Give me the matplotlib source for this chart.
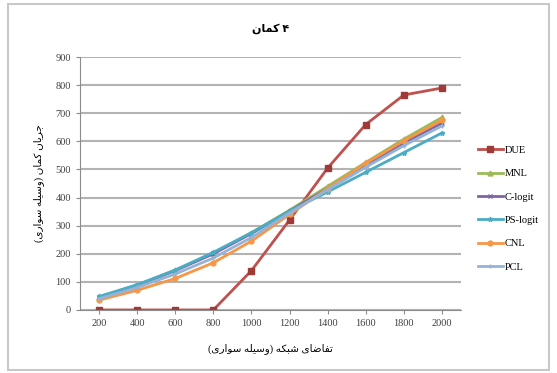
import matplotlib
matplotlib.use('Agg')
import matplotlib.pyplot as plt
from matplotlib.patches import Rectangle

# data
demand = [200, 400, 600, 800, 1000, 1200, 1400, 1600, 1800, 2000]
DUE = [0, 0, 0, 0, 140, 320, 505, 660, 765, 790]
MNL = [45, 88, 142, 202, 275, 355, 440, 525, 608, 685]
C_logit = [45, 88, 140, 200, 272, 352, 432, 515, 595, 665]
PS_logit = [48, 90, 142, 205, 275, 352, 420, 490, 560, 630]
CNL = [35, 70, 112, 168, 245, 340, 432, 522, 602, 675]
PCL = [40, 80, 128, 185, 258, 345, 428, 508, 585, 655]

series = ['DUE', 'MNL', 'C-logit', 'PS-logit', 'CNL', 'PCL']
values = [DUE, MNL, C_logit, PS_logit, CNL, PCL]
colors = ['#C0504D', '#9BBB59', '#8064A2', '#4BACC6', '#F79646', '#95B3D7']
markers = ['s', '^', 'x', '*', 'o', '+']

# persian text written in visual order with presentation forms (no shaping in mpl)
w_kaman = '\uFEE5\uFE8E\uFEE4\uFB90'
w_jaryan = '\uFEE5\uFE8E\uFBFE\uFEAE\uFE9F'
w_vasile = '\uFEEA\uFEE0\uFBFF\uFEB3\uFEED'
w_savari = '\uFBFC\uFEAD\uFE8D\uFEEE\uFEB3'
w_shabake = '\uFEEA\uFB91\uFE92\uFEB7'
w_taghaza = '\uFBFC\uFE8E\uFEBF\uFE8E\uFED4\uFE97'
paren = '(' + w_savari + ' ' + w_vasile + ')'
title_txt = w_kaman + ' \u06F4'
ylab = paren + ' ' + w_kaman + ' ' + w_jaryan
xlab = paren + ' ' + w_shabake + ' ' + w_taghaza

fam = ['Liberation Serif', 'DejaVu Sans']
plt.rcParams['font.family'] = fam

fig = plt.figure(figsize=(5.57, 3.73), dpi=100)
ax = fig.add_axes([0.1436, 0.169, 0.684, 0.678])

for i, (name, vals, c, m) in enumerate(zip(series, values, colors, markers)):
    if i == 0:
        ax.plot(demand, vals, color=c, lw=2, marker=m, ms=4.5,
                markerfacecolor='#9E3B38', markeredgecolor='#9E3B38', label=name)
    else:
        ax.plot(demand, vals, color=c, lw=2, marker=m, ms=3.5, mew=1,
                markerfacecolor=c, markeredgecolor=c, label=name)

ax.set_xlim(100, 2100)
ax.set_ylim(0, 900)
ax.set_xticks(demand)
ax.set_yticks(range(0, 901, 100))
ax.grid(axis='y', color='#B3B3B3', lw=1.5)
ax.set_axisbelow(True)
for s in ['top', 'right']:
    ax.spines[s].set_visible(False)
for s in ['left', 'bottom']:
    ax.spines[s].set_color('#8C8C8C')
ax.tick_params(axis='both', labelsize=7.5, colors='#8C8C8C', labelcolor='#404040', length=3)

ax.set_title(title_txt, fontsize=8, fontweight='bold', pad=18)
ax.set_xlabel(xlab, fontsize=7.5, labelpad=11)
ax.set_ylabel(ylab, fontsize=7.5, labelpad=8)

ax.legend(loc='center left', bbox_to_anchor=(1.02, 0.40), frameon=False,
          fontsize=7.5, handlelength=2.4, labelspacing=1.35, handletextpad=0.2)

fig.patches.append(Rectangle((0.014, 0.008), 0.972, 0.98, transform=fig.transFigure,
                             fill=False, edgecolor='#C8C8C8', lw=1.5))

fig.savefig('out.png', dpi=100)
